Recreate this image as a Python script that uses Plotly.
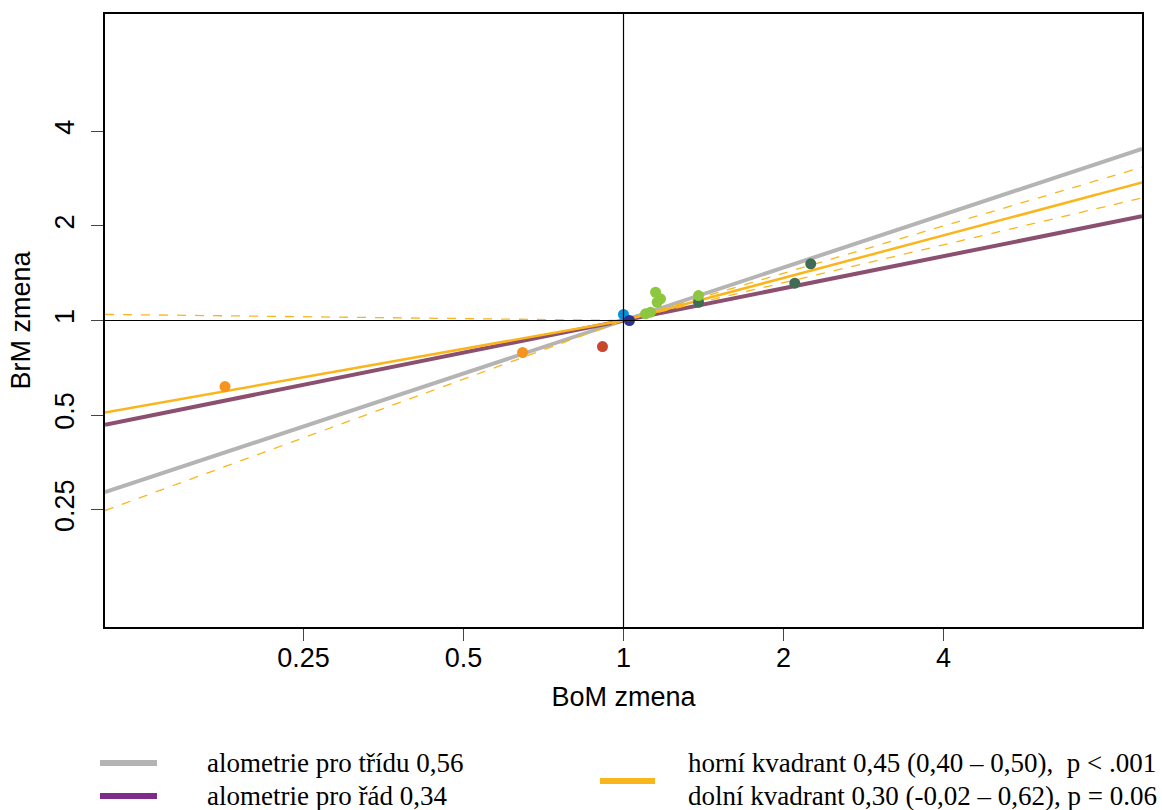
import numpy as np
import plotly.graph_objects as go

# Log2 range shown on both axes (symmetric around 1)
LOG2_SPAN = 3.24

# Observed fold changes (body mass vs. brain mass)
bom_change = [0.178, 0.646, 0.913, 1.0, 1.026, 1.10, 1.124, 1.149, 1.174, 1.157, 1.384, 1.384, 2.10, 2.25]
brm_change = [0.616, 0.791, 0.826, 1.045, 1.0, 1.05, 1.063, 1.23, 1.172, 1.143, 1.143, 1.20, 1.314, 1.515]
point_colors = ["#f7941d", "#f7941d", "#c9452c", "#0b8fd6", "#2e3192",
                "#8dc63f", "#8dc63f", "#8dc63f", "#8dc63f", "#8dc63f",
                "#406b55", "#8dc63f", "#406b55", "#406b55"]

# Allometric slopes
slope_class = 0.56
slope_order = 0.34
slope_upper, ci_upper = 0.45, (0.40, 0.50)
slope_lower, ci_lower = 0.30, (-0.02, 0.62)

tick_vals = [0.25, 0.5, 1, 2, 4]
tick_text = ["0.25", "0.5", "1", "2", "4"]

GRAY = "#b4b4b4"
PURPLE_LINE = "#8b4f70"
PURPLE_KEY = "#7e2b8c"
ORANGE = "#fbb51c"

x_full = np.logspace(-LOG2_SPAN * np.log10(2), LOG2_SPAN * np.log10(2), 200)
x_hi = np.concatenate([[1.0], x_full[x_full >= 1]])
x_lo = np.concatenate([x_full[x_full <= 1], [1.0]])

fig = go.Figure()

def add_line(x, slope, color, width, dash="solid"):
    fig.add_trace(go.Scatter(x=x, y=np.power(x, slope), mode="lines",
                             line=dict(color=color, width=width, dash=dash),
                             showlegend=False, hoverinfo="skip"))

add_line(x_full, slope_class, GRAY, 4)
add_line(x_full, slope_order, PURPLE_LINE, 4)
add_line(x_hi, slope_upper, ORANGE, 2.5)
add_line(x_lo, slope_lower, ORANGE, 2.5)
for s in ci_upper:
    add_line(x_hi, s, ORANGE, 1.3, "dash")
for s in ci_lower:
    add_line(x_lo, s, ORANGE, 1.3, "dash")

fig.add_trace(go.Scatter(x=bom_change, y=brm_change, mode="markers",
                         marker=dict(color=point_colors, size=11, line=dict(width=0)),
                         showlegend=False))

# Reference lines through 1
fig.add_vline(x=1, line=dict(color="black", width=1.2))
fig.add_hline(y=1, line=dict(color="black", width=1.2))

axis_common = dict(type="log", range=[-LOG2_SPAN * np.log10(2), LOG2_SPAN * np.log10(2)],
                   tickvals=tick_vals, ticktext=tick_text, showgrid=False, zeroline=False,
                   showline=True, linecolor="black", linewidth=1.5, mirror=True,
                   ticks="outside", ticklen=12, tickwidth=1.2, tickcolor="#444",
                   tickfont=dict(family="Liberation Sans", size=27, color="black"))

fig.update_xaxes(**axis_common, ticklabelstandoff=-6,
                 title=dict(text="BoM zmena", standoff=15,
                            font=dict(family="Liberation Sans", size=27, color="black")))
fig.update_yaxes(**axis_common, tickangle=-90, ticklabelstandoff=6,
                 title=dict(text="BrM zmena", standoff=12,
                            font=dict(family="Liberation Sans", size=27, color="black")))

# Legend drawn as keys and text beneath the plot
legend_font = dict(family="Liberation Serif", size=27, color="black")
PL, PR, PT, PB = 105, 1142, 14, 627
keys = [
    (100, 157, 763, GRAY, "alometrie pro třídu 0,56", 205, 763),
    (100, 157, 796, PURPLE_KEY, "alometrie pro řád 0,34", 205, 796),
    (600, 655, 781, ORANGE, "horní kvadrant 0,45 (0,40 – 0,50),  p < .001", 686, 763),
    (None, None, None, None, "dolní kvadrant 0,30 (-0,02 – 0,62), p = 0.06", 686, 796),
]
for x0, x1, yk, col, label, xt, yt in keys:
    if x0 is not None:
        fig.add_shape(type="line", xref="paper", yref="paper",
                      x0=(x0 - PL) / (PR - PL), x1=(x1 - PL) / (PR - PL),
                      y0=(PB - yk) / (PB - PT), y1=(PB - yk) / (PB - PT),
                      line=dict(color=col, width=6))
    fig.add_annotation(xref="paper", yref="paper", x=(xt - PL) / (PR - PL),
                       y=(PB - yt) / (PB - PT), text=label, showarrow=False,
                       xanchor="left", yanchor="middle", font=legend_font)

fig.update_layout(width=1162, height=810, margin=dict(l=PL, r=1162 - PR, t=PT, b=810 - PB),
                  plot_bgcolor="white", paper_bgcolor="white", showlegend=False)

fig.write_html("out.html")
